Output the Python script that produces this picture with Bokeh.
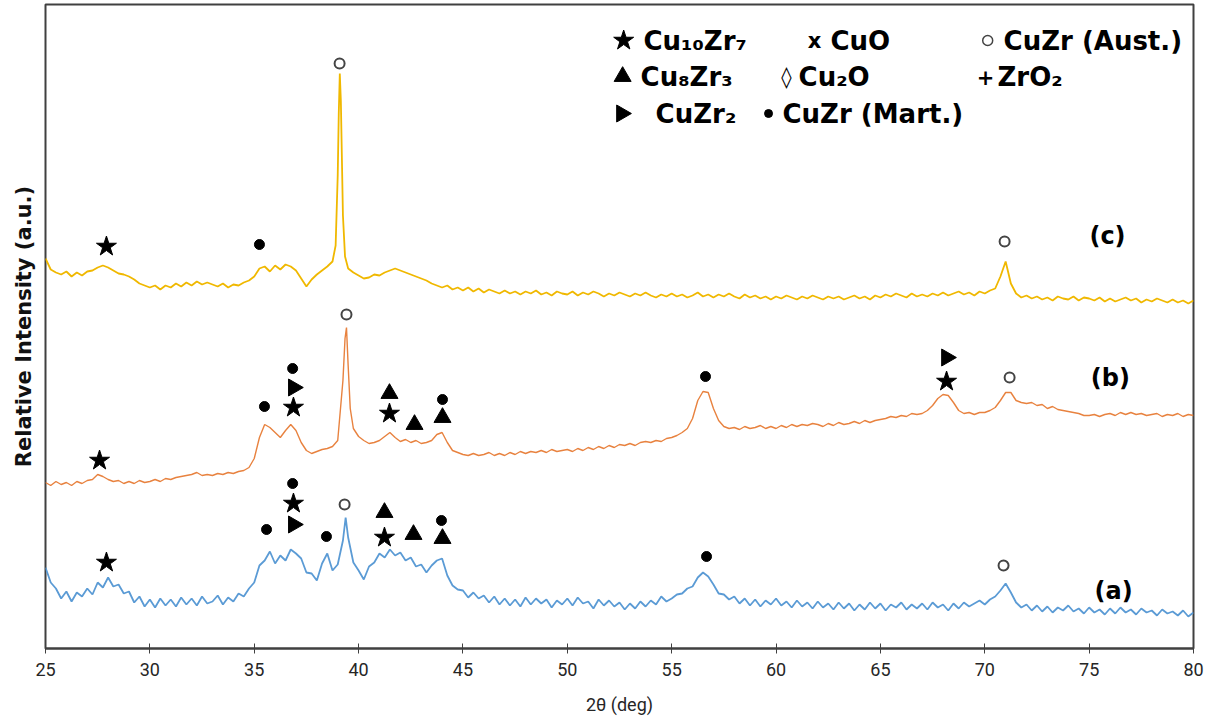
import numpy as np
from bokeh.plotting import figure
from bokeh.models import Range1d, FixedTicker
from bokeh.core.properties import value
from bokeh.embed import file_html
from bokeh.resources import INLINE

# ---------------- data ----------------
SCAN_START = 25.0
SCAN_STEP = 0.25
X_TICKS = [25, 30, 35, 40, 45, 50, 55, 60, 65, 70, 75, 80]

# (c) yellow trace, relative intensity on the 0.25 deg scan grid
c_y = [390, 379, 376, 374, 377, 372, 376, 373, 377, 378, 381, 383,
       381, 378, 375, 374, 372, 369, 365, 363, 361, 363, 359, 363,
       361, 365, 362, 366, 363, 367, 364, 366, 364, 362, 365, 361,
       364, 363, 366, 368, 372, 380, 382, 377, 383, 379, 384, 382,
       378, 370, 362, 369, 374, 378, 382, 387, 473, 433, 380, 376,
       373, 370, 371, 374, 373, 376, 378, 380, 378, 376, 374, 372,
       370, 368, 365, 363, 361, 363, 359, 361, 358, 361, 357, 360,
       356, 359, 357, 355, 358, 355, 357, 354, 357, 355, 358, 354,
       356, 353, 357, 355, 354, 357, 353, 356, 354, 357, 355, 352,
       355, 353, 356, 354, 352, 355, 353, 356, 353, 351, 354, 352,
       355, 352, 354, 351, 353, 356, 352, 354, 351, 354, 352, 355,
       352, 350, 354, 351, 353, 350, 352, 349, 352, 350, 353, 351,
       349, 352, 350, 353, 351, 349, 352, 350, 352, 349, 351, 353,
       350, 352, 349, 353, 351, 354, 352, 355, 353, 351, 355, 352,
       354, 352, 355, 353, 356, 353, 355, 357, 354, 356, 353, 357,
       355, 358, 360, 372, 387, 365, 355, 351, 353, 350, 352, 349,
       351, 348, 352, 350, 349, 352, 348, 351, 350, 348, 351, 347,
       350, 347, 349, 351, 348, 350, 346, 349, 347, 350, 348, 346,
       349, 346, 348, 345, 348]
c_peak_x = [38.9, 39.05, 39.1, 39.15, 39.35]
c_peak_y = [403, 535, 575, 548, 392]

# (b) orange trace
b_y = [166, 163, 167, 164, 166, 163, 167, 165, 168, 169, 174, 172,
       169, 167, 168, 165, 167, 165, 168, 166, 167, 169, 167, 170,
       169, 171, 172, 173, 174, 176, 173, 174, 173, 175, 174, 176,
       175, 177, 178, 181, 190, 211, 224, 221, 216, 211, 218, 224,
       218, 206, 198, 195, 197, 199, 200, 202, 208, 268, 283, 220,
       212, 208, 205, 206, 208, 212, 216, 211, 207, 209, 206, 208,
       205, 206, 208, 214, 216, 206, 198, 196, 194, 193, 195, 193,
       194, 196, 193, 195, 193, 196, 194, 197, 195, 197, 196, 198,
       196, 199, 197, 198, 199, 197, 200, 198, 201, 199, 202, 200,
       203, 201, 204, 203, 205, 203, 206, 207, 206, 208, 207, 210,
       211, 213, 216, 220, 230, 248, 257, 256, 240, 228, 222, 220,
       221, 219, 222, 220, 221, 223, 220, 222, 220, 223, 221, 224,
       222, 224, 223, 225, 224, 222, 225, 223, 226, 224, 225, 227,
       225, 228, 226, 228, 229, 230, 232, 231, 233, 232, 235, 234,
       235, 238, 243, 250, 254, 253, 246, 238, 235, 236, 234, 236,
       236, 238, 241, 248, 256, 256, 248, 246, 245, 246, 243, 244,
       240, 242, 239, 238, 237, 236, 235, 233, 233, 234, 232, 234,
       235, 233, 236, 234, 236, 234, 235, 233, 234, 235, 232, 234,
       233, 235, 232, 234, 233]
b_peak_x = [39.35, 39.42, 39.6]
b_peak_y = [310, 321, 240]

# (a) blue trace
a_y = [81, 66, 60, 50, 57, 47, 56, 52, 60, 54, 66, 61,
       71, 62, 64, 55, 57, 46, 52, 42, 49, 41, 50, 43,
       49, 42, 51, 44, 50, 43, 52, 45, 47, 53, 44, 51,
       47, 55, 52, 60, 66, 83, 88, 97, 85, 93, 88, 99,
       95, 90, 76, 75, 68, 85, 95, 78, 84, 108, 111, 86,
       78, 69, 82, 86, 95, 91, 99, 93, 96, 88, 91, 82,
       84, 76, 83, 88, 90, 73, 63, 59, 58, 51, 56, 50,
       53, 46, 52, 44, 50, 43, 49, 42, 51, 44, 50, 45,
       49, 41, 48, 44, 50, 43, 51, 45, 47, 40, 49, 43,
       48, 42, 46, 39, 45, 40, 47, 42, 48, 44, 52, 47,
       50, 54, 55, 60, 62, 71, 76, 72, 64, 55, 54, 49,
       52, 45, 50, 43, 49, 42, 48, 44, 50, 43, 47, 41,
       48, 42, 46, 40, 47, 41, 45, 39, 46, 40, 45, 38,
       44, 39, 46, 40, 45, 38, 44, 41, 46, 39, 44, 40,
       45, 39, 46, 41, 44, 38, 45, 40, 46, 42, 45, 48,
       44, 49, 52, 58, 65, 56, 46, 41, 44, 38, 43, 37,
       42, 36, 41, 38, 43, 37, 40, 35, 41, 36, 39, 34,
       40, 35, 41, 36, 39, 34, 40, 36, 38, 33, 39, 35,
       37, 33, 38, 32, 36]
a_peak_x = [39.38]
a_peak_y = [131]

# phase markers on the patterns (2theta, relative intensity)
star_x = [27.92, 27.59, 36.88, 41.48, 68.17, 27.92, 36.88, 41.24]
star_y = [402, 188, 241, 235, 267, 86, 145, 111]
tri_x = [41.48, 42.68, 44.02, 41.24, 42.63, 44.02]
tri_y = [255, 224, 231, 136, 114, 110]
rtri_x = [36.88, 68.17, 36.88]
rtri_y = [261, 291, 124]
dot_x = [35.25, 35.49, 36.84, 44.02, 56.62, 35.59, 36.84, 38.46, 43.97, 56.67]
dot_y = [404, 242, 280, 249, 272, 119, 165, 112, 128, 92]
ocirc_x = [39.09, 70.95, 39.42, 71.19, 39.33, 70.90]
ocirc_y = [585, 407, 334, 271, 144, 83]

# key (legend) texts
key_text = ["Cu\u2081\u2080Zr\u2087", "CuO", "CuZr (Aust.)",
            "Cu\u2088Zr\u2083", "Cu\u2082O", "ZrO\u2082",
            "CuZr\u2082", "CuZr (Mart.)"]
key_text_x = [53.65, 62.61, 70.90, 53.51, 61.08, 70.61, 54.23, 60.31]
key_text_y = [608, 608, 608, 572, 572, 572, 535, 535]
key_sym_text = ["x", "\u25ca", "+"]
key_sym_x = [61.84, 60.50, 70.04]
key_sym_y = [608, 572, 572]

sample_labels = ["(c)", "(b)", "(a)"]
sample_x = [75.88, 76.02, 76.17]
sample_y = [413, 271, 58]


def trace(base_y, extra_x, extra_y):
    xs = [SCAN_START + SCAN_STEP * i for i in range(len(base_y))] + extra_x
    ys = base_y + extra_y
    order = np.argsort(xs)
    return np.array(xs)[order], np.array(ys)[order]


BOLD_FONT = value("DejaVu Sans")

p = figure(width=1205, height=720, x_range=Range1d(25, 80), y_range=Range1d(0, 644),
           output_backend="svg", toolbar_location=None,
           min_border_left=45, min_border_right=12, min_border_top=4, min_border_bottom=72)
p.grid.visible = False
p.outline_line_color = "#404040"
p.outline_line_width = 2
p.background_fill_color = "white"
p.border_fill_color = "white"

# x axis
p.xaxis.ticker = FixedTicker(ticks=X_TICKS)
p.xaxis.minor_tick_line_color = None
p.xaxis.major_tick_in = 5
p.xaxis.major_tick_out = 5
p.xaxis.major_tick_line_color = "#404040"
p.xaxis.major_tick_line_width = 1
p.xaxis.axis_line_color = "#404040"
p.xaxis.axis_line_width = 2
p.xaxis.major_label_text_font = "Roboto"
p.xaxis.major_label_text_font_size = "18px"
p.xaxis.major_label_text_color = "#262626"
p.xaxis.major_label_standoff = 9
p.xaxis.axis_label = "2\u03b8 (deg)"
p.xaxis.axis_label_text_font = "Roboto"
p.xaxis.axis_label_text_font_size = "18px"
p.xaxis.axis_label_text_font_style = "normal"
p.xaxis.axis_label_text_color = "#262626"
p.xaxis.axis_label_standoff = 15

# y axis (label only)
p.yaxis.ticker = FixedTicker(ticks=[])
p.yaxis.minor_tick_line_color = None
p.yaxis.major_tick_in = 0
p.yaxis.major_tick_out = 0
p.yaxis.major_label_standoff = 0
p.yaxis.axis_line_color = None
p.yaxis.axis_label = "Relative Intensity (a.u.)"
p.yaxis.axis_label_text_font = "DejaVu Sans"
p.yaxis.axis_label_text_font_size = "21px"
p.yaxis.axis_label_text_font_style = "bold"
p.yaxis.axis_label_text_color = "#111111"
p.yaxis.axis_label_standoff = 10

# traces
for (yy, ex, ey, col, lw) in [(a_y, a_peak_x, a_peak_y, "#5B9BD5", 1.8),
                              (b_y, b_peak_x, b_peak_y, "#E8823F", 1.4),
                              (c_y, c_peak_x, c_peak_y, "#F0B800", 1.8)]:
    xs, ys = trace(yy, ex, ey)
    p.line(xs, ys, line_color=col, line_width=lw)

# phase markers
p.scatter(star_x, star_y, marker="star", size=21, fill_color="black", line_color="black")
p.scatter(tri_x, tri_y, marker="triangle", size=17, fill_color="black", line_color="black")
p.scatter(rtri_x, rtri_y, marker="triangle", size=17, angle=-np.pi / 2,
          fill_color="black", line_color="black")
p.scatter(dot_x, dot_y, marker="circle", size=10, fill_color="black", line_color="black")
p.scatter(ocirc_x, ocirc_y, marker="circle", size=10, fill_color="white",
          line_color="#444444", line_width=2)

# key symbols (markers)
p.scatter([52.70], [608], marker="star", size=21, fill_color="black", line_color="black")
p.scatter([52.65], [572], marker="triangle", size=17, fill_color="black", line_color="black")
p.scatter([52.60], [535], marker="triangle", size=17, angle=-np.pi / 2,
          fill_color="black", line_color="black")
p.scatter([70.14], [608], marker="circle", size=10, fill_color="white",
          line_color="#444444", line_width=1.5)
p.scatter([59.64], [535], marker="circle", size=8, fill_color="black", line_color="black")

p.text(key_text_x, key_text_y, text=key_text, text_font=BOLD_FONT,
       text_font_style="bold", text_font_size="26px", text_baseline="middle",
       text_align="left", text_color="black")
p.text(key_sym_x, key_sym_y, text=key_sym_text, text_font=BOLD_FONT,
       text_font_style="bold", text_font_size="21px", text_baseline="middle",
       text_align="center", text_color="black")
p.text(sample_x, sample_y, text=sample_labels, text_font=BOLD_FONT,
       text_font_style="bold", text_font_size="24px", text_baseline="middle",
       text_align="center", text_color="black")

open("out.html", "w").write(file_html(p, INLINE))
